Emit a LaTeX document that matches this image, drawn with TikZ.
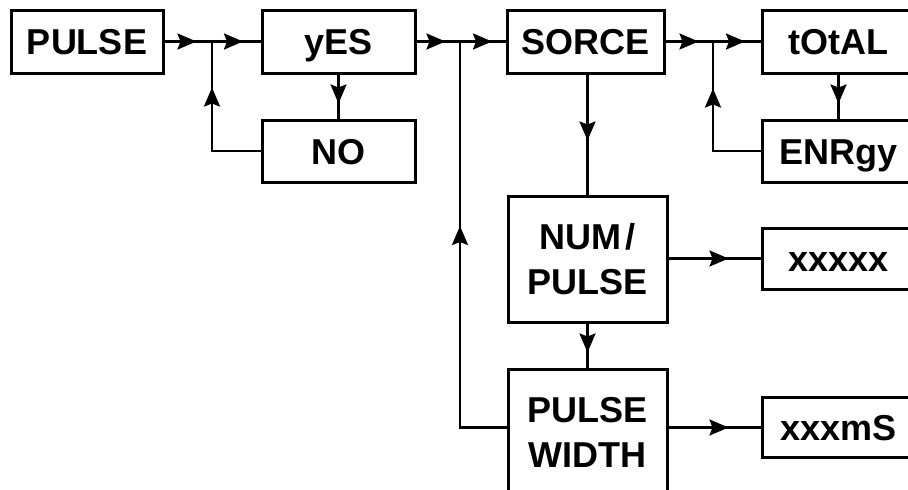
\documentclass[tikz,border=0pt]{standalone}
\usepackage{fontspec}
\setmainfont{Liberation Sans}
\usetikzlibrary{arrows.meta,decorations.markings}
\begin{document}
\begin{tikzpicture}[x=1pt,y=-1pt,
  box/.style={draw, line width=3pt, inner sep=0pt, align=center,
    font=\fontsize{36}{45}\selectfont\bfseries},
  one/.style={text height=26pt, text depth=0pt},
  conn/.style={line width=2.5pt},
  tipat/.style={postaction={decorate}, decoration={markings,
    mark=at position #1 with {\arrow{Stealth[length=19pt,width=16pt,inset=3pt]}}}}]
\clip (0,0) rectangle (908,490);
\fill[white] (0,0) rectangle (908,490);
% boxes
\node[box,one,minimum width=152pt,minimum height=63pt] (pulse) at (87,41.5) {PULSE};
\node[box,one,minimum width=153pt,minimum height=63pt] (yes) at (338.5,41.5) {yES};
\node[box,one,minimum width=153pt,minimum height=62pt] (no) at (338.5,151) {NO};
\node[box,one,minimum width=157pt,minimum height=63pt] (sorce) at (585.5,41.5) {SORCE};
\node[box,one,minimum width=153pt,minimum height=63pt] (total) at (838.5,41.5) {tOtAL};
\node[box,one,minimum width=153pt,minimum height=62pt] (energy) at (838.5,151) {ENRgy};
\node[box,minimum width=159pt,minimum height=126pt] (num) at (587.5,259) {NUM\kern4pt/\\PULSE};
\node[box,minimum width=159pt,minimum height=126pt] (width) at (587.5,432) {PULSE\\WIDTH};
\node[box,one,minimum width=153pt,minimum height=61pt] (xa) at (838.5,258.5) {xxxxx};
\node[box,one,minimum width=153pt,minimum height=60pt] (xb) at (838.5,427.5) {xxxmS};
% junctions
\coordinate (j1) at (212,41.5);
\coordinate (j2) at (460,41.5);
\coordinate (j3) at (713,41.5);
% connectors
\draw[conn,tipat=32pt] (pulse.east) -- (j1);
\draw[conn,tipat=31pt] (j1) -- (yes.west);
\draw[conn,tipat=112pt] (no.west) -| (j1);
\draw[conn,tipat=29pt] (yes.south) -- (no.north);
\draw[conn,tipat=29pt] (yes.east) -- (j2);
\draw[conn,tipat=32pt] (j2) -- (sorce.west);
\draw[conn,tipat=66pt] (num.north |- sorce.south) -- (num.north);
\draw[conn,tipat=33pt] (sorce.east) -- (j3);
\draw[conn,tipat=32pt] (j3) -- (total.west);
\draw[conn,tipat=110pt] (energy.west) -| (j3);
\draw[conn,tipat=29pt] (total.south) -- (energy.north);
\draw[conn,tipat=29pt] (num.south) -- (width.north);
\draw[conn,tipat=60pt] (num.east |- xa.west) -- (xa.west);
\draw[conn,tipat=60pt] (width.east |- xb.west) -- (xb.west);
\draw[conn,tipat=248pt] (width.west |- xb.west) -| (j2);
\end{tikzpicture}
\end{document}
